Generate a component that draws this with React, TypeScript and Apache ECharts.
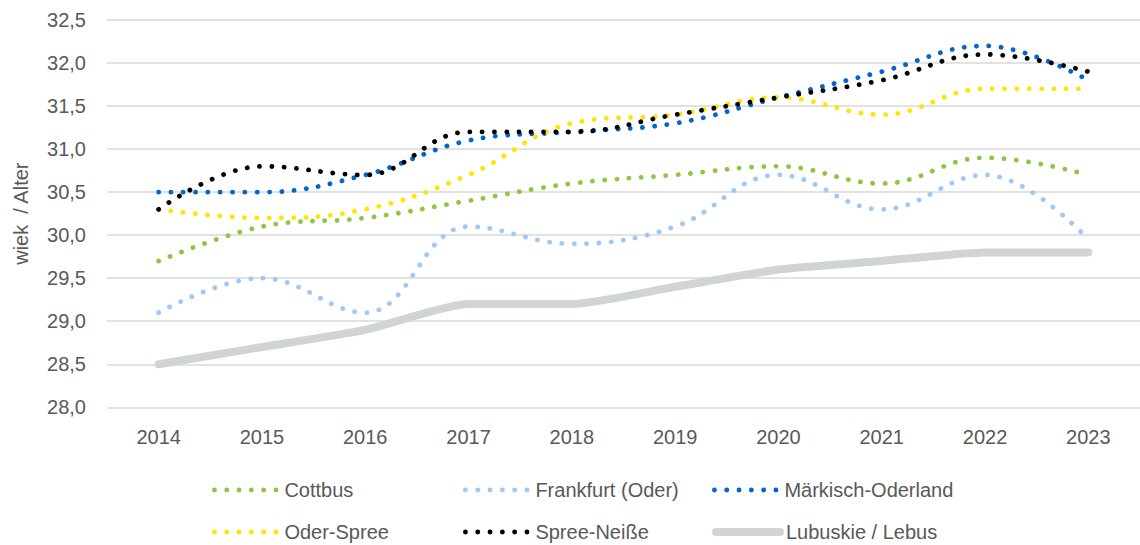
import React, { useEffect, useRef } from "react";
import * as echarts from "echarts";

const years = ["2014", "2015", "2016", "2017", "2018", "2019", "2020", "2021", "2022", "2023"];
const cottbus = [29.7, 30.1, 30.2, 30.4, 30.6, 30.7, 30.8, 30.6, 30.9, 30.7];
const frankfurt = [29.1, 29.5, 29.1, 30.1, 29.9, 30.1, 30.7, 30.3, 30.7, 29.95];
const maerkisch = [30.5, 30.5, 30.7, 31.1, 31.2, 31.3, 31.6, 31.9, 32.2, 31.8];
const oderSpree = [30.3, 30.2, 30.3, 30.7, 31.3, 31.4, 31.6, 31.4, 31.7, 31.7];
const spreeNeisse = [30.3, 30.8, 30.7, 31.2, 31.2, 31.4, 31.6, 31.8, 32.1, 31.9];
const lubuskie = [28.5, 28.7, 28.9, 29.2, 29.2, 29.4, 29.6, 29.7, 29.8, 29.8];

const FONT = "'Liberation Sans', Arial, sans-serif";
const TXT = "#595959";
const FS = 20;
const DOT_W = 4.8;
const GRAY_W = 8;

function dotted(name: string, data: number[], color: string) {
  return {
    name,
    type: "line",
    data,
    smooth: 0.4,
    symbol: "none",
    lineStyle: { color, width: DOT_W, type: [0.1, 12.2], cap: "round" },
    itemStyle: { color },
  };
}

function legendItem(name: string, left: number, top: number, width: number) {
  return {
    data: [name],
    left,
    top,
    itemWidth: 64,
    itemHeight: 14,
    selectedMode: false,
    itemStyle: { opacity: 0 },
    lineStyle: { width },
    textStyle: { fontFamily: FONT, fontSize: FS, color: TXT, padding: [0, 0, 0, 1] },
  };
}

export default function App() {
  const ref = useRef<HTMLDivElement>(null);
  useEffect(() => {
    if (!ref.current) return;
    const chart = echarts.init(ref.current, null, { renderer: "svg" });
    const r1 = 475;
    const r2 = 517;
    chart.setOption({
      animation: false,
      textStyle: { fontFamily: FONT },
      grid: { left: 107, top: 20, width: 1042, height: 387.3, containLabel: false },
      legend: [
        legendItem("Cottbus", 207, r1, DOT_W),
        legendItem("Frankfurt (Oder)", 458, r1, DOT_W),
        legendItem("Märkisch-Oderland", 707, r1, DOT_W),
        legendItem("Oder-Spree", 207, r2, DOT_W),
        legendItem("Spree-Neiße", 458, r2, DOT_W),
        legendItem("Lubuskie / Lebus", 707, r2, GRAY_W),
      ],
      xAxis: {
        type: "category",
        data: years,
        boundaryGap: true,
        axisLine: { show: false },
        axisTick: { show: false },
        axisLabel: { fontFamily: FONT, fontSize: FS, color: TXT, margin: 20 },
      },
      yAxis: {
        type: "value",
        min: 28,
        max: 32.5,
        interval: 0.5,
        name: "wiek  / Alter",
        nameLocation: "middle",
        nameGap: 76,
        nameTextStyle: { fontFamily: FONT, fontSize: FS, color: TXT },
        axisLine: { show: false },
        axisTick: { show: false },
        splitLine: { lineStyle: { color: "#d9d9d9", width: 1.5 } },
        axisLabel: {
          fontFamily: FONT,
          fontSize: FS,
          color: TXT,
          margin: 21,
          formatter: (v: number) => v.toFixed(1).replace(".", ","),
        },
      },
      series: [
        dotted("Cottbus", cottbus, "#8dc63f"),
        dotted("Frankfurt (Oder)", frankfurt, "#9dc8f8"),
        dotted("Märkisch-Oderland", maerkisch, "#0066cc"),
        dotted("Oder-Spree", oderSpree, "#ffe600"),
        dotted("Spree-Neiße", spreeNeisse, "#000000"),
        {
          name: "Lubuskie / Lebus",
          type: "line",
          data: lubuskie,
          smooth: 0.2,
          symbol: "none",
          z: 1,
          lineStyle: { color: "#d0d4d4", width: GRAY_W, cap: "round", join: "round" },
          itemStyle: { color: "#d0d4d4" },
        },
      ],
    });
    return () => chart.dispose();
  }, []);
  return (
    <div
      ref={ref}
      style={{ position: "fixed", left: 0, top: 0, width: 1140, height: 545, overflow: "hidden", background: "#fff" }}
    />
  );
}
